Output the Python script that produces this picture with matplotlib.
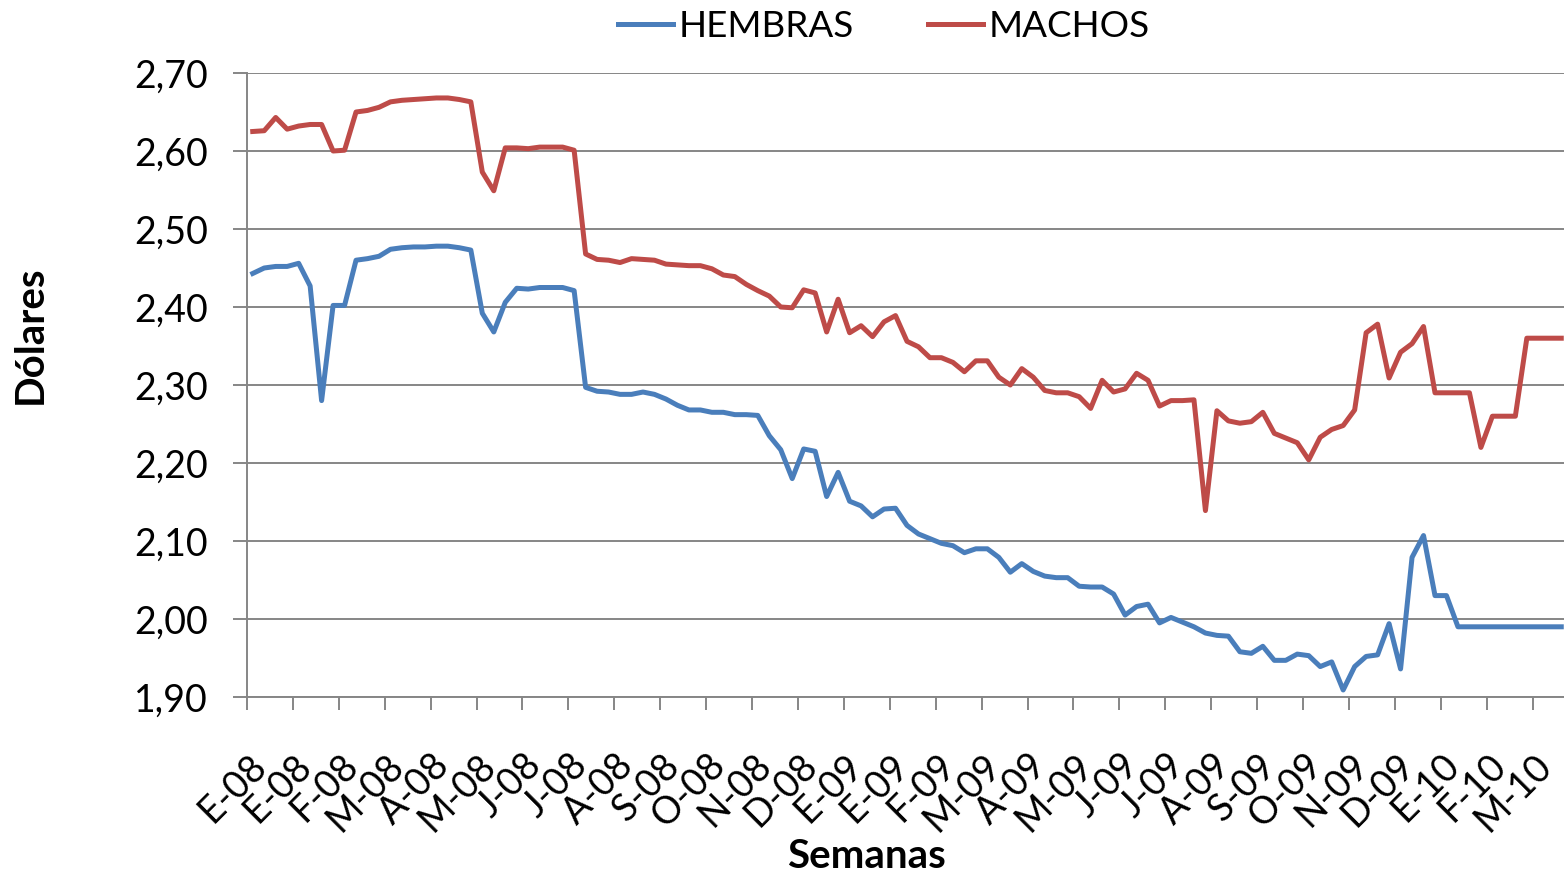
import numpy as np
import matplotlib.pyplot as plt
from matplotlib.ticker import FuncFormatter
from matplotlib.transforms import ScaledTranslation

plt.rcParams['font.family'] = ['Lato', 'DejaVu Sans']

week_labels = ['E-08', 'E-08', 'F-08', 'M-08', 'A-08', 'M-08', 'J-08', 'J-08', 'A-08',
               'S-08', 'O-08', 'N-08', 'D-08', 'E-09', 'E-09', 'F-09', 'M-09', 'A-09',
               'M-09', 'J-09', 'J-09', 'A-09', 'S-09', 'O-09', 'N-09', 'D-09', 'E-10',
               'F-10', 'M-10']

hembras = [2.443, 2.450, 2.452, 2.452, 2.456, 2.427, 2.280, 2.402, 2.402, 2.460,
           2.462, 2.465, 2.474, 2.476, 2.477, 2.477, 2.478, 2.478, 2.476, 2.473,
           2.392, 2.368, 2.406, 2.424, 2.423, 2.425, 2.425, 2.425, 2.421, 2.297,
           2.292, 2.291, 2.288, 2.288, 2.291, 2.288, 2.282, 2.274, 2.268, 2.268,
           2.265, 2.265, 2.262, 2.262, 2.261, 2.235, 2.217, 2.180, 2.218, 2.215,
           2.157, 2.188, 2.151, 2.145, 2.131, 2.141, 2.142, 2.120, 2.109, 2.103,
           2.097, 2.094, 2.085, 2.090, 2.090, 2.079, 2.060, 2.071, 2.061, 2.055,
           2.053, 2.053, 2.042, 2.041, 2.041, 2.032, 2.005, 2.016, 2.019, 1.995,
           2.002, 1.996, 1.990, 1.982, 1.979, 1.978, 1.958, 1.956, 1.965, 1.947,
           1.947, 1.955, 1.953, 1.939, 1.945, 1.909, 1.939, 1.952, 1.954, 1.994,
           1.936, 2.079, 2.107, 2.030, 2.030, 1.990, 1.990, 1.990, 1.990, 1.990,
           1.990, 1.990, 1.990, 1.990, 1.990]

machos = [2.625, 2.626, 2.643, 2.628, 2.632, 2.634, 2.634, 2.600, 2.601, 2.650,
          2.652, 2.656, 2.663, 2.665, 2.666, 2.667, 2.668, 2.668, 2.666, 2.663,
          2.573, 2.549, 2.604, 2.604, 2.603, 2.605, 2.605, 2.605, 2.601, 2.468,
          2.461, 2.460, 2.457, 2.462, 2.461, 2.460, 2.455, 2.454, 2.453, 2.453,
          2.449, 2.441, 2.439, 2.429, 2.421, 2.414, 2.400, 2.399, 2.422, 2.418,
          2.368, 2.410, 2.367, 2.376, 2.362, 2.381, 2.389, 2.356, 2.349, 2.335,
          2.335, 2.329, 2.317, 2.331, 2.331, 2.310, 2.300, 2.321, 2.310, 2.293,
          2.290, 2.290, 2.285, 2.270, 2.306, 2.291, 2.295, 2.315, 2.306, 2.273,
          2.280, 2.280, 2.281, 2.139, 2.267, 2.254, 2.251, 2.253, 2.265, 2.238,
          2.232, 2.226, 2.204, 2.233, 2.243, 2.248, 2.268, 2.367, 2.378, 2.309,
          2.342, 2.353, 2.375, 2.290, 2.290, 2.290, 2.290, 2.220, 2.260, 2.260,
          2.260, 2.360, 2.360, 2.360, 2.360]

y_ticks = [1.90, 2.00, 2.10, 2.20, 2.30, 2.40, 2.50, 2.60, 2.70]

grey = '#868686'
n = len(hembras)
x = np.arange(n)

fig = plt.figure(figsize=(15.64, 8.75), dpi=100)
ax = fig.add_axes([247 / 1564, 1 - 697 / 875, 1320 / 1564, 624 / 875])

ax.plot(x, hembras, color='#4A7EBB', lw=3.6, solid_joinstyle='round', label='HEMBRAS', clip_on=False)
ax.plot(x, machos, color='#BE4B48', lw=3.6, solid_joinstyle='round', label='MACHOS', clip_on=False)

ax.set_xlim(-0.5, n - 0.5)
ax.set_ylim(1.90, 2.70)
ax.set_yticks(y_ticks)
ax.yaxis.set_major_formatter(FuncFormatter(lambda v, p: ('%.2f' % v).replace('.', ',')))
ax.grid(axis='y', color=grey, lw=1.4)
ax.set_axisbelow(True)

# tick marks on category boundaries, labels on every 4th category
ax.set_xticks(np.arange(-0.5, n - 3, 4))
ax.set_xticklabels([])
ax.set_xticks(np.arange(0, n, 4), minor=True)
ax.set_xticklabels(week_labels, minor=True, rotation=45, ha='right', va='top',
                   rotation_mode='anchor', fontsize=27)
ax.tick_params(axis='x', which='major', length=9.5, width=1.4, color=grey, direction='out')
ax.tick_params(axis='x', which='minor', length=0, pad=36)
ax.tick_params(axis='y', length=10, width=1.4, color=grey, labelsize=27, pad=18)

shift = ScaledTranslation(-5 / 100, 0, fig.dpi_scale_trans)
for lab in ax.get_xticklabels(minor=True):
    lab.set_transform(lab.get_transform() + shift)

for s in ['top', 'right']:
    ax.spines[s].set_visible(False)
for s in ['left', 'bottom']:
    ax.spines[s].set_color(grey)
    ax.spines[s].set_linewidth(1.4)

fig.text(30 / 1564, 1 - 335 / 875, 'Dólares', rotation=90, fontsize=29, fontweight='bold',
         ha='center', va='center')
fig.text(866 / 1564, 1 - 857 / 875, 'Semanas', fontsize=29, fontweight='bold',
         ha='center', va='center')

fig.legend(loc='upper center', bbox_to_anchor=(884 / 1564, 1.026), ncol=2, frameon=False,
           fontsize=26.5, handlelength=1.5, handletextpad=0.15, columnspacing=2.0)

plt.savefig('out.png', dpi=100)
